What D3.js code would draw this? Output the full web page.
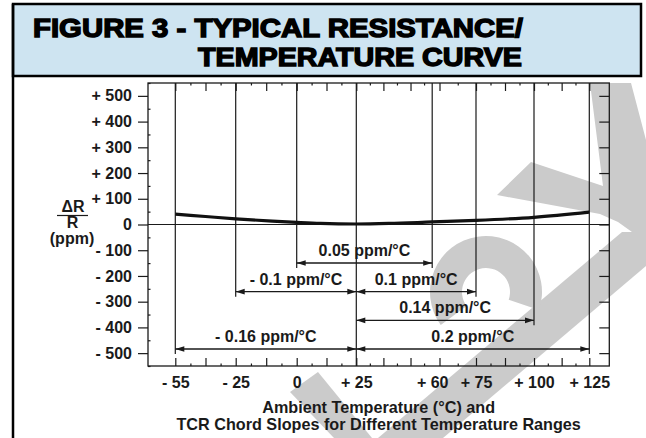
<!DOCTYPE html>
<html>
<head>
<meta charset="utf-8">
<script src="https://cdn.jsdelivr.net/npm/d3@7/dist/d3.min.js"></script>
<style>
  html, body { margin: 0; padding: 0; background: #fff; }
  svg { display: block; font-family: 'Liberation Sans', Arial, Helvetica, sans-serif; font-weight: bold; }
</style>
</head>
<body>
<div id="chart"></div>
<script>
// temperatures (°C) that get a full vertical reference line + label
const tempMarks = [-55, -25, 0, 25, 60, 75, 100, 125]
// small ticks along the top and bottom edges (°C)
const tempTicks = [-55, -40, -25, -12.5, 0, 12.5, 25, 37.5, 50, 62.5, 75, 87.5, 100, 112.5, 125]
// ΔR/R ticks (ppm)
const ppmTicks = [-500, -400, -300, -200, -100, 0, 100, 200, 300, 400, 500]

// typical resistance / temperature curve
const curveTemps = [-55, -40, -25, -10, 0, 10, 25, 40, 60, 75, 100, 125]
const curvePpm = [40, 31, 22, 13, 8, 4, 2, 4, 10, 16, 28, 48]

// TCR chord slopes: span, row of the dimension line, label
const chordFrom = [0, -25, 25, 25, -55, 25]
const chordTo = [60, 25, 75, 100, 25, 125]
const chordRow = [0, 1, 1, 2, 3, 3]
const chordLabels = ['0.05 ppm/°C', '- 0.1 ppm/°C', '0.1 ppm/°C', '0.14 ppm/°C', '- 0.16 ppm/°C', '0.2 ppm/°C']
const refTemp = 25

const W = 646, H = 438
const plot = { left: 148, right: 609.3, top: 83, bottom: 366 }

const svg = d3.select('#chart').append('svg')
  .attr('width', W).attr('height', H)

// the printed temperature axis is schematic (not evenly spaced), so map it piecewise
const x = d3.scaleLinear().domain(tempMarks)
  .range([175.3, 235.7, 296.7, 356.3, 432.2, 476, 534, 589.3])
const y = d3.scaleLinear().domain([-550, 550]).range([plot.bottom, plot.top])
const rowY = d3.scaleLinear().domain([0, 3]).range([263, 349])

const signed = v => v < 0 ? '- ' + Math.abs(v) : v > 0 ? '+ ' + v : '0'

// watermark (grey lettering behind the figure)
const wm = svg.append('g').attr('fill', '#cbcbcb')
wm.append('path').attr('d', 'M590,83 L631,83 L646,140 L646,242 L618,222 L600,214 L497,195 L531,162 L603,186 Z')
wm.append('path').attr('d', 'M378,438 L622,232 L646,232 L646,266 L443,438 Z')
wm.append('path').attr('d', d3.arc()({ innerRadius: 24, outerRadius: 56, startAngle: -2.2, endAngle: 1.9 }))
  .attr('transform', 'translate(486,292)')
wm.append('path').attr('d', 'M290,392 L318,372 L372,438 L334,438 Z')

// title band
svg.append('rect')
  .attr('x', 13).attr('y', 4).attr('width', 628).attr('height', 72)
  .attr('fill', '#cee4f1').attr('stroke', '#000').attr('stroke-width', 2.5)
svg.append('line')
  .attr('x1', 13).attr('x2', 13).attr('y1', 4).attr('y2', H)
  .attr('stroke', '#000').attr('stroke-width', 2.5)

const title = svg.append('g')
  .style('font-size', '26px').style('font-weight', 900)
  .attr('fill', '#000').attr('stroke', '#000').attr('stroke-width', 1.4)
title.append('text').attr('x', 33).attr('y', 37)
  .attr('textLength', 490).attr('lengthAdjust', 'spacingAndGlyphs')
  .text('FIGURE 3 - TYPICAL RESISTANCE/')
title.append('text').attr('x', 198).attr('y', 65.5)
  .attr('textLength', 324).attr('lengthAdjust', 'spacingAndGlyphs')
  .text('TEMPERATURE CURVE')

// plot frame
svg.append('rect')
  .attr('x', plot.left).attr('y', plot.top)
  .attr('width', plot.right - plot.left).attr('height', plot.bottom - plot.top)
  .attr('fill', 'none').attr('stroke', '#1a1a1a').attr('stroke-width', 1.3)

const tickStyle = g => g.call(s => s.select('.domain').remove())
  .call(s => s.selectAll('line').attr('stroke', '#1a1a1a').attr('stroke-width', 1.2))
const labelStyle = g => g.selectAll('text')
  .style('font-size', '16px').style('font-family', null).attr('fill', '#1a1a1a')

// y axis (left, labelled) and right edge ticks
svg.append('g').attr('transform', `translate(${plot.left},0)`)
  .call(d3.axisLeft(y).tickValues(ppmTicks).tickSize(10).tickPadding(6).tickFormat(signed))
  .call(tickStyle)
  .call(labelStyle)
svg.append('g').attr('transform', `translate(${plot.left},0)`)
  .call(d3.axisRight(y).tickValues(d3.range(-550, 551, 50).filter(v => v % 100)).tickSize(2.5).tickFormat(''))
  .call(tickStyle)
svg.append('g').attr('transform', `translate(${plot.right},0)`)
  .call(d3.axisLeft(y).tickValues(ppmTicks).tickSize(10).tickFormat(''))
  .call(tickStyle)

// top and bottom edge ticks
const halfTicks = d3.pairs(tempTicks, (a, b) => (a + b) / 2)
svg.append('g').attr('transform', `translate(0,${plot.top})`)
  .call(d3.axisBottom(x).tickValues(tempTicks).tickSize(8).tickFormat(''))
  .call(tickStyle)
svg.append('g').attr('transform', `translate(0,${plot.top})`)
  .call(d3.axisBottom(x).tickValues(halfTicks).tickSize(2.5).tickFormat(''))
  .call(tickStyle)
svg.append('g').attr('transform', `translate(0,${plot.bottom})`)
  .call(d3.axisTop(x).tickValues(tempTicks).tickSize(8).tickFormat(''))
  .call(tickStyle)
svg.append('g').attr('transform', `translate(0,${plot.bottom})`)
  .call(d3.axisTop(x).tickValues(halfTicks).tickSize(2.5).tickFormat(''))
  .call(tickStyle)

// x labels
svg.append('g').attr('transform', `translate(0,${plot.bottom})`)
  .call(d3.axisBottom(x).tickValues(tempMarks).tickSize(0).tickPadding(11).tickFormat(signed))
  .call(g => g.select('.domain').remove())
  .call(labelStyle)

// zero line
svg.append('line')
  .attr('x1', plot.left).attr('x2', plot.right)
  .attr('y1', y(0)).attr('y2', y(0))
  .attr('stroke', '#1a1a1a').attr('stroke-width', 1.2)

// vertical reference lines, each stops just below its lowest chord
const lowestRow = t => d3.max(chordRow.filter((r, i) => chordFrom[i] === t || chordTo[i] === t))
svg.append('g').selectAll('line').data(tempMarks).join('line')
  .attr('x1', d => x(d)).attr('x2', d => x(d))
  .attr('y1', plot.top)
  .attr('y2', d => d === refTemp ? plot.bottom : rowY(lowestRow(d)) + 5)
  .attr('stroke', '#1a1a1a').attr('stroke-width', 1.2)

// curve
const line = d3.line().x(d => x(d[0])).y(d => y(d[1])).curve(d3.curveMonotoneX)
svg.append('path')
  .datum(d3.zip(curveTemps, curvePpm))
  .attr('d', line)
  .attr('fill', 'none').attr('stroke', '#111').attr('stroke-width', 3.2)

// chord dimension lines with arrow heads at both ends
const chords = chordLabels.map((label, i) => ({ a: chordFrom[i], b: chordTo[i], row: chordRow[i], label }))
const head = (px, py, dir) => `M${px},${py} L${px - dir * 9},${py - 2.8} L${px - dir * 9},${py + 2.8} Z`
const cg = svg.append('g').selectAll('g').data(chords).join('g')
cg.append('line')
  .attr('x1', d => x(d.a)).attr('x2', d => x(d.b))
  .attr('y1', d => rowY(d.row)).attr('y2', d => rowY(d.row))
  .attr('stroke', '#1a1a1a').attr('stroke-width', 1.3)
cg.append('path').attr('d', d => head(x(d.a), rowY(d.row), -1)).attr('fill', '#1a1a1a')
cg.append('path').attr('d', d => head(x(d.b), rowY(d.row), 1)).attr('fill', '#1a1a1a')
cg.append('text')
  .attr('x', d => (x(d.a) + x(d.b)) / 2).attr('y', d => rowY(d.row) - 7)
  .attr('text-anchor', 'middle').style('font-size', '16px').attr('fill', '#1a1a1a')
  .text(d => d.label)

// y label ΔR / R (ppm)
const yl = svg.append('g').attr('fill', '#1a1a1a').style('font-size', '16px').attr('text-anchor', 'middle')
yl.append('text').attr('x', 73).attr('y', 211.5).text('ΔR')
yl.append('line').attr('x1', 57).attr('x2', 88).attr('y1', 215.5).attr('y2', 215.5)
  .attr('stroke', '#1a1a1a').attr('stroke-width', 1.2)
yl.append('text').attr('x', 72.5).attr('y', 228).text('R')
yl.append('text').attr('x', 72).attr('y', 244).text('(ppm)')

// x axis title
const xt = svg.append('g').attr('fill', '#1a1a1a').style('font-size', '16.2px').attr('text-anchor', 'middle')
xt.append('text').attr('x', (plot.left + plot.right) / 2).attr('y', 413).text('Ambient Temperature (°C) and')
xt.append('text').attr('x', (plot.left + plot.right) / 2).attr('y', 429.5).text('TCR Chord Slopes for Different Temperature Ranges')
</script>
</body>
</html>
